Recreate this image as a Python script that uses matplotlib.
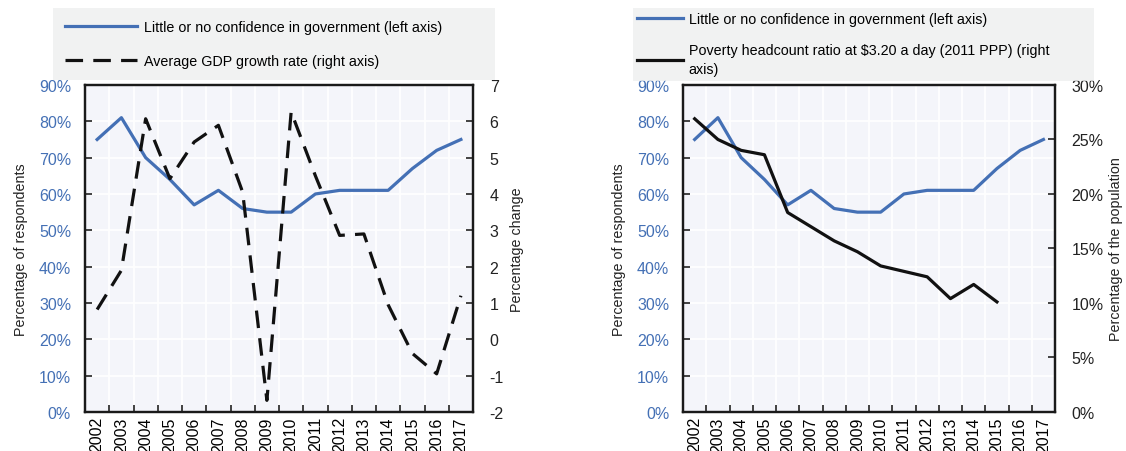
import numpy as np
import matplotlib.pyplot as plt
from matplotlib.ticker import FixedLocator, PercentFormatter

plt.rcParams['font.family'] = ['Liberation Sans', 'DejaVu Sans']
plt.rcParams['axes.unicode_minus'] = False

years = [str(y) for y in range(2002, 2018)]
confidence = [75, 81, 70, 64, 57, 61, 56, 55, 55, 60, 61, 61, 61, 67, 72, 75]
gdp_growth = [0.82, 1.9, 6.07, 4.42, 5.43, 5.89, 4.05, -1.68, 6.26, 4.5, 2.86, 2.9, 0.95, -0.39, -0.95, 1.2]
poverty_years = years[:14]
poverty = [26.9, 25.0, 24.0, 23.6, 18.3, 17.0, 15.7, 14.7, 13.4, 12.9, 12.4, 10.4, 11.7, 10.1]

blue = '#4470B5'
bg = '#F4F5FA'
legend_bg = '#EEEFEF'
fs = 10.3
tfs = 11.5

fig = plt.figure(figsize=(11.26, 4.52), dpi=100)
ax1 = fig.add_axes([0.0755, 0.0863, 0.3446, 0.7235])
ax2 = fig.add_axes([0.6066, 0.0863, 0.3304, 0.7235])


def style_x(ax):
    n = len(years)
    ax.set_xlim(-0.5, n - 0.5)
    ax.xaxis.set_major_locator(FixedLocator(np.arange(-0.5, n, 1.0)))
    ax.xaxis.set_minor_locator(FixedLocator(np.arange(n)))
    ax.set_xticklabels([], minor=False)
    ax.set_xticklabels(years, minor=True, rotation=90)
    ax.tick_params(axis='x', which='major', direction='in', length=5, width=1.2, color='#222222')
    ax.tick_params(axis='x', which='minor', length=0, labelsize=tfs, pad=3)
    ax.set_facecolor(bg)
    ax.grid(True, which='major', color='white', linewidth=1.2)
    ax.set_axisbelow(True)
    for s in ax.spines.values():
        s.set_linewidth(1.6)
        s.set_color('#1a1a1a')


def style_left(ax):
    ax.set_ylim(0, 90)
    ax.set_yticks(range(0, 91, 10))
    ax.yaxis.set_major_formatter(PercentFormatter(decimals=0))
    ax.tick_params(axis='y', direction='in', length=5, width=1.2, color='#222222',
                   labelcolor=blue, labelsize=tfs, pad=10)
    ax.set_ylabel('Percentage of respondents', fontsize=fs, color='#222222', labelpad=8)


def style_right(ax):
    ax.tick_params(axis='y', direction='in', length=5, width=1.2, color='#222222',
                   labelcolor='#222222', labelsize=tfs, pad=12)
    for s in ax.spines.values():
        s.set_linewidth(1.6)
        s.set_color('#1a1a1a')


x = np.arange(len(years))

# left chart
style_x(ax1)
style_left(ax1)
l1, = ax1.plot(x, confidence, color=blue, lw=2.3, label='Little or no confidence in government (left axis)', zorder=3)
ax1r = ax1.twinx()
l2, = ax1r.plot(x, gdp_growth, color='#111111', lw=2.3, dashes=(5.5, 3.2),
                label='Average GDP growth rate (right axis)', zorder=3)
ax1r.set_ylim(-2, 7)
ax1r.set_yticks(range(-2, 8))
style_right(ax1r)
ax1r.set_ylabel('Percentage change', fontsize=fs, color='#222222', labelpad=4)

leg1 = fig.legend(handles=[l1, l2], loc='upper left', bbox_to_anchor=(0.047, 0.98, 0.393, 0.0),
                  mode='expand', frameon=True, fancybox=False, fontsize=fs,
                  handlelength=5.0, handletextpad=0.5, labelspacing=1.35, borderpad=0.85,
                  borderaxespad=0)
leg1.get_frame().set_facecolor(legend_bg)
leg1.get_frame().set_edgecolor('none')

# right chart
style_x(ax2)
style_left(ax2)
l3, = ax2.plot(x, confidence, color=blue, lw=2.3, label='Little or no confidence in government (left axis)', zorder=3)
ax2r = ax2.twinx()
l4, = ax2r.plot(np.arange(len(poverty_years)), poverty, color='#111111', lw=2.3,
                label='Poverty headcount ratio at $3.20 a day (2011 PPP) (right\naxis)', zorder=3)
ax2r.set_ylim(0, 30)
ax2r.set_yticks(range(0, 31, 5))
ax2r.yaxis.set_major_formatter(PercentFormatter(decimals=0))
style_right(ax2r)
ax2r.set_ylabel('Percentage of the population', fontsize=fs, color='#222222', labelpad=4)

leg2 = fig.legend(handles=[l3, l4], loc='upper left', bbox_to_anchor=(0.562, 0.98, 0.41, 0.0),
                  mode='expand', frameon=True, fancybox=False, fontsize=fs,
                  handlelength=3.2, handletextpad=0.4, labelspacing=1.2, borderpad=0.3,
                  borderaxespad=0)
leg2.get_texts()[1].set_linespacing(1.45)
leg2.get_frame().set_facecolor(legend_bg)
leg2.get_frame().set_edgecolor('none')

fig.savefig('out.png', dpi=100)
